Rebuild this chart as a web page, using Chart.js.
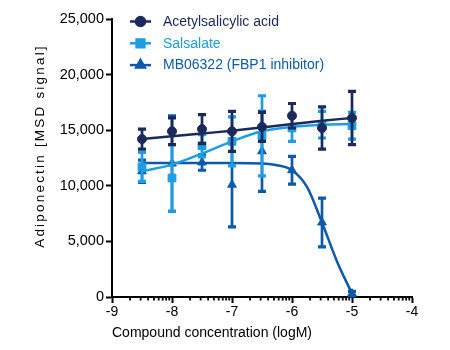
<!DOCTYPE html>
<html><head><meta charset="utf-8">
<script src="https://cdn.jsdelivr.net/npm/chart.js@4/dist/chart.umd.min.js"></script>
<style>html,body{margin:0;padding:0;background:#fff;}#wrap{width:450px;height:350px;position:relative;}</style>
</head><body><div id="wrap"><canvas id="c"></canvas></div>
<script>
// ---- data ----
const seriesNames = ['Acetylsalicylic acid', 'Salsalate', 'MB06322 (FBP1 inhibitor)'];
const logConc = [-8.5, -8, -7.5, -7, -6.5, -6, -5.5, -5];
const asaMean = [14200, 14900, 15100, 14900, 15300, 16300, 15200, 16100];
const asaErr  = [900, 1200, 1300, 1800, 1300, 1100, 1900, 2400];
const salMean = [11700, 10700, 13600, 14000, 14500, 15200, 15500, 15400];
const salErr  = [1300, 3000, 1000, 2200, 3600, 1200, 1200, 1200];
const mbMean  = [11300, 12000, 12100, 10100, 13100, 11400, 6700, 300];
const mbErr   = [1000, 4300, 700, 3800, 3600, 1250, 2200, 200];
// fitted curves
const asaFitX = [-8.5, -8, -7.5, -7, -6.5, -6, -5.5, -5];
const asaFitY = [14200, 14450, 14700, 14950, 15250, 15550, 15850, 16100];
const salFitX = [-8.5, -8, -7.5, -7, -6.5, -6, -5.5, -5];
const salFitY = [11300, 11900, 12900, 14000, 14900, 15300, 15500, 15550];
const mbFitX  = [-8.5, -7.5, -7, -6.5, -6.25, -6, -5.75, -5.5, -5.25, -5];
const mbFitY  = [12050, 12050, 12050, 12000, 11850, 11400, 9900, 6700, 3200, 300];
const xTicks = [-9, -8, -7, -6, -5, -4];
const yTicks = [0, 5000, 10000, 15000, 20000, 25000];
const xTitle = 'Compound concentration (logM)';
const yTitle = 'Adiponectin [MSD signal]';

const NAVY = '#1b2a5a', LIGHT = '#1e9de2', MID = '#0d5aa8';
const FONT = 'Liberation Sans, Arial, sans-serif';

const pts = (xs, ys) => xs.map((x, i) => ({x, y: ys[i]}));

function pointSet(label, color, style, r, mean, err) {
  return {label, type: 'scatter', data: pts(logConc, mean), errors: err, showLine: false,
    pointStyle: style, pointRadius: r, pointBackgroundColor: color, pointBorderColor: color,
    pointBorderWidth: 1, borderColor: color, backgroundColor: color, isPoints: true};
}
function fitSet(label, color, xs, ys) {
  return {label: label + ' fit', type: 'line', data: pts(xs, ys), borderColor: color, borderWidth: 2.5,
    pointRadius: 0, cubicInterpolationMode: 'monotone', fill: false};
}

const datasets = [
  pointSet(seriesNames[0], NAVY, 'circle', 4.5, asaMean, asaErr),
  fitSet(seriesNames[0], NAVY, asaFitX, asaFitY),
  pointSet(seriesNames[1], LIGHT, 'rect', 5.5, salMean, salErr),
  fitSet(seriesNames[1], LIGHT, salFitX, salFitY),
  pointSet(seriesNames[2], MID, 'triangle', 5, mbMean, mbErr),
  fitSet(seriesNames[2], MID, mbFitX, mbFitY),
];

const errorBars = {
  id: 'errorBars',
  beforeDatasetDraw(chart, args) {
    const ds = chart.data.datasets[args.index];
    if (!ds.errors) return;
    const {ctx, scales: {x, y}} = chart;
    ctx.save();
    ctx.strokeStyle = ds.borderColor;
    ds.data.forEach((p, i) => {
      const px = x.getPixelForValue(p.x);
      const top = y.getPixelForValue(p.y + ds.errors[i]);
      const bot = y.getPixelForValue(Math.max(0, p.y - ds.errors[i]));
      ctx.lineWidth = 2.7;
      ctx.beginPath();
      ctx.moveTo(px, top); ctx.lineTo(px, bot);
      ctx.stroke();
      ctx.lineWidth = 3.2;
      ctx.beginPath();
      ctx.moveTo(px - 4, top); ctx.lineTo(px + 4, top);
      if (p.y - ds.errors[i] > 0) { ctx.moveTo(px - 4, bot); ctx.lineTo(px + 4, bot); }
      ctx.stroke();
    });
    ctx.restore();
  }
};

const decorations = {
  id: 'decorations',
  afterDraw(chart) {
    const {ctx, scales: {x, y}} = chart;
    ctx.save();
    // minor log ticks on x axis
    ctx.strokeStyle = '#000'; ctx.lineWidth = 1.8;
    const y0 = y.getPixelForValue(0);
    for (let d = -9; d < -4; d++) {
      for (let k = 2; k <= 9; k++) {
        const px = x.getPixelForValue(d + Math.log10(k));
        ctx.beginPath(); ctx.moveTo(px, y0); ctx.lineTo(px, y0 + 3.5); ctx.stroke();
      }
    }
    // axis titles
    ctx.fillStyle = '#000';
    ctx.font = '14px ' + FONT;
    ctx.textAlign = 'left'; ctx.textBaseline = 'middle';
    ctx.fillText(xTitle, x.left, 333);
    ctx.save();
    ctx.translate(40, 146);
    ctx.rotate(-Math.PI / 2);
    ctx.textAlign = 'center';
    ctx.letterSpacing = '2.2px';
    ctx.font = '13.5px ' + FONT;
    ctx.fillText(yTitle, 0, 0);
    ctx.restore();
    // legend
    const items = chart.data.datasets.filter(d => d.isPoints);
    items.forEach((d, i) => {
      const cy = 21.5 + i * 21.8;
      ctx.strokeStyle = d.borderColor; ctx.lineWidth = 2.5;
      ctx.beginPath(); ctx.moveTo(130, cy); ctx.lineTo(151, cy); ctx.stroke();
      ctx.fillStyle = d.borderColor;
      Chart.helpers.drawPoint(ctx, {pointStyle: d.pointStyle, radius: d.pointRadius, borderWidth: 1}, 140.5, cy);
      ctx.fillStyle = d.borderColor;
      ctx.font = '14px ' + FONT;
      ctx.textAlign = 'left'; ctx.textBaseline = 'middle';
      ctx.letterSpacing = '0px';
      ctx.fillText(d.label, 163, cy + 0.5);
    });
    ctx.restore();
  }
};

new Chart(document.getElementById('c'), {
  data: {datasets},
  options: {
    responsive: true, maintainAspectRatio: false, animation: false,
    layout: {padding: {left: 0, right: 38, top: 19, bottom: 0}},
    plugins: {legend: {display: false}, tooltip: {enabled: false}},
    scales: {
      x: {type: 'linear', min: -9, max: -4,
        afterBuildTicks(s) { s.ticks = xTicks.map(v => ({value: v})); },
        ticks: {color: '#000', font: {family: FONT, size: 14}, padding: 1},
        grid: {drawOnChartArea: false, drawTicks: true, tickLength: 6, tickWidth: 2, tickColor: '#000'},
        border: {color: '#000', width: 2},
        afterFit(s) { s.height = 53; }
      },
      y: {type: 'linear', min: 0, max: 25000,
        afterBuildTicks(s) { s.ticks = yTicks.map(v => ({value: v})); },
        ticks: {color: '#000', font: {family: FONT, size: 14.5}, padding: 2,
          callback: v => v.toLocaleString('en-US')},
        grid: {drawOnChartArea: false, drawTicks: true, tickLength: 6, tickWidth: 2, tickColor: '#000'},
        border: {color: '#000', width: 2},
        afterFit(s) { s.width = 112; }
      }
    }
  },
  plugins: [errorBars, decorations]
});
</script></body></html>
